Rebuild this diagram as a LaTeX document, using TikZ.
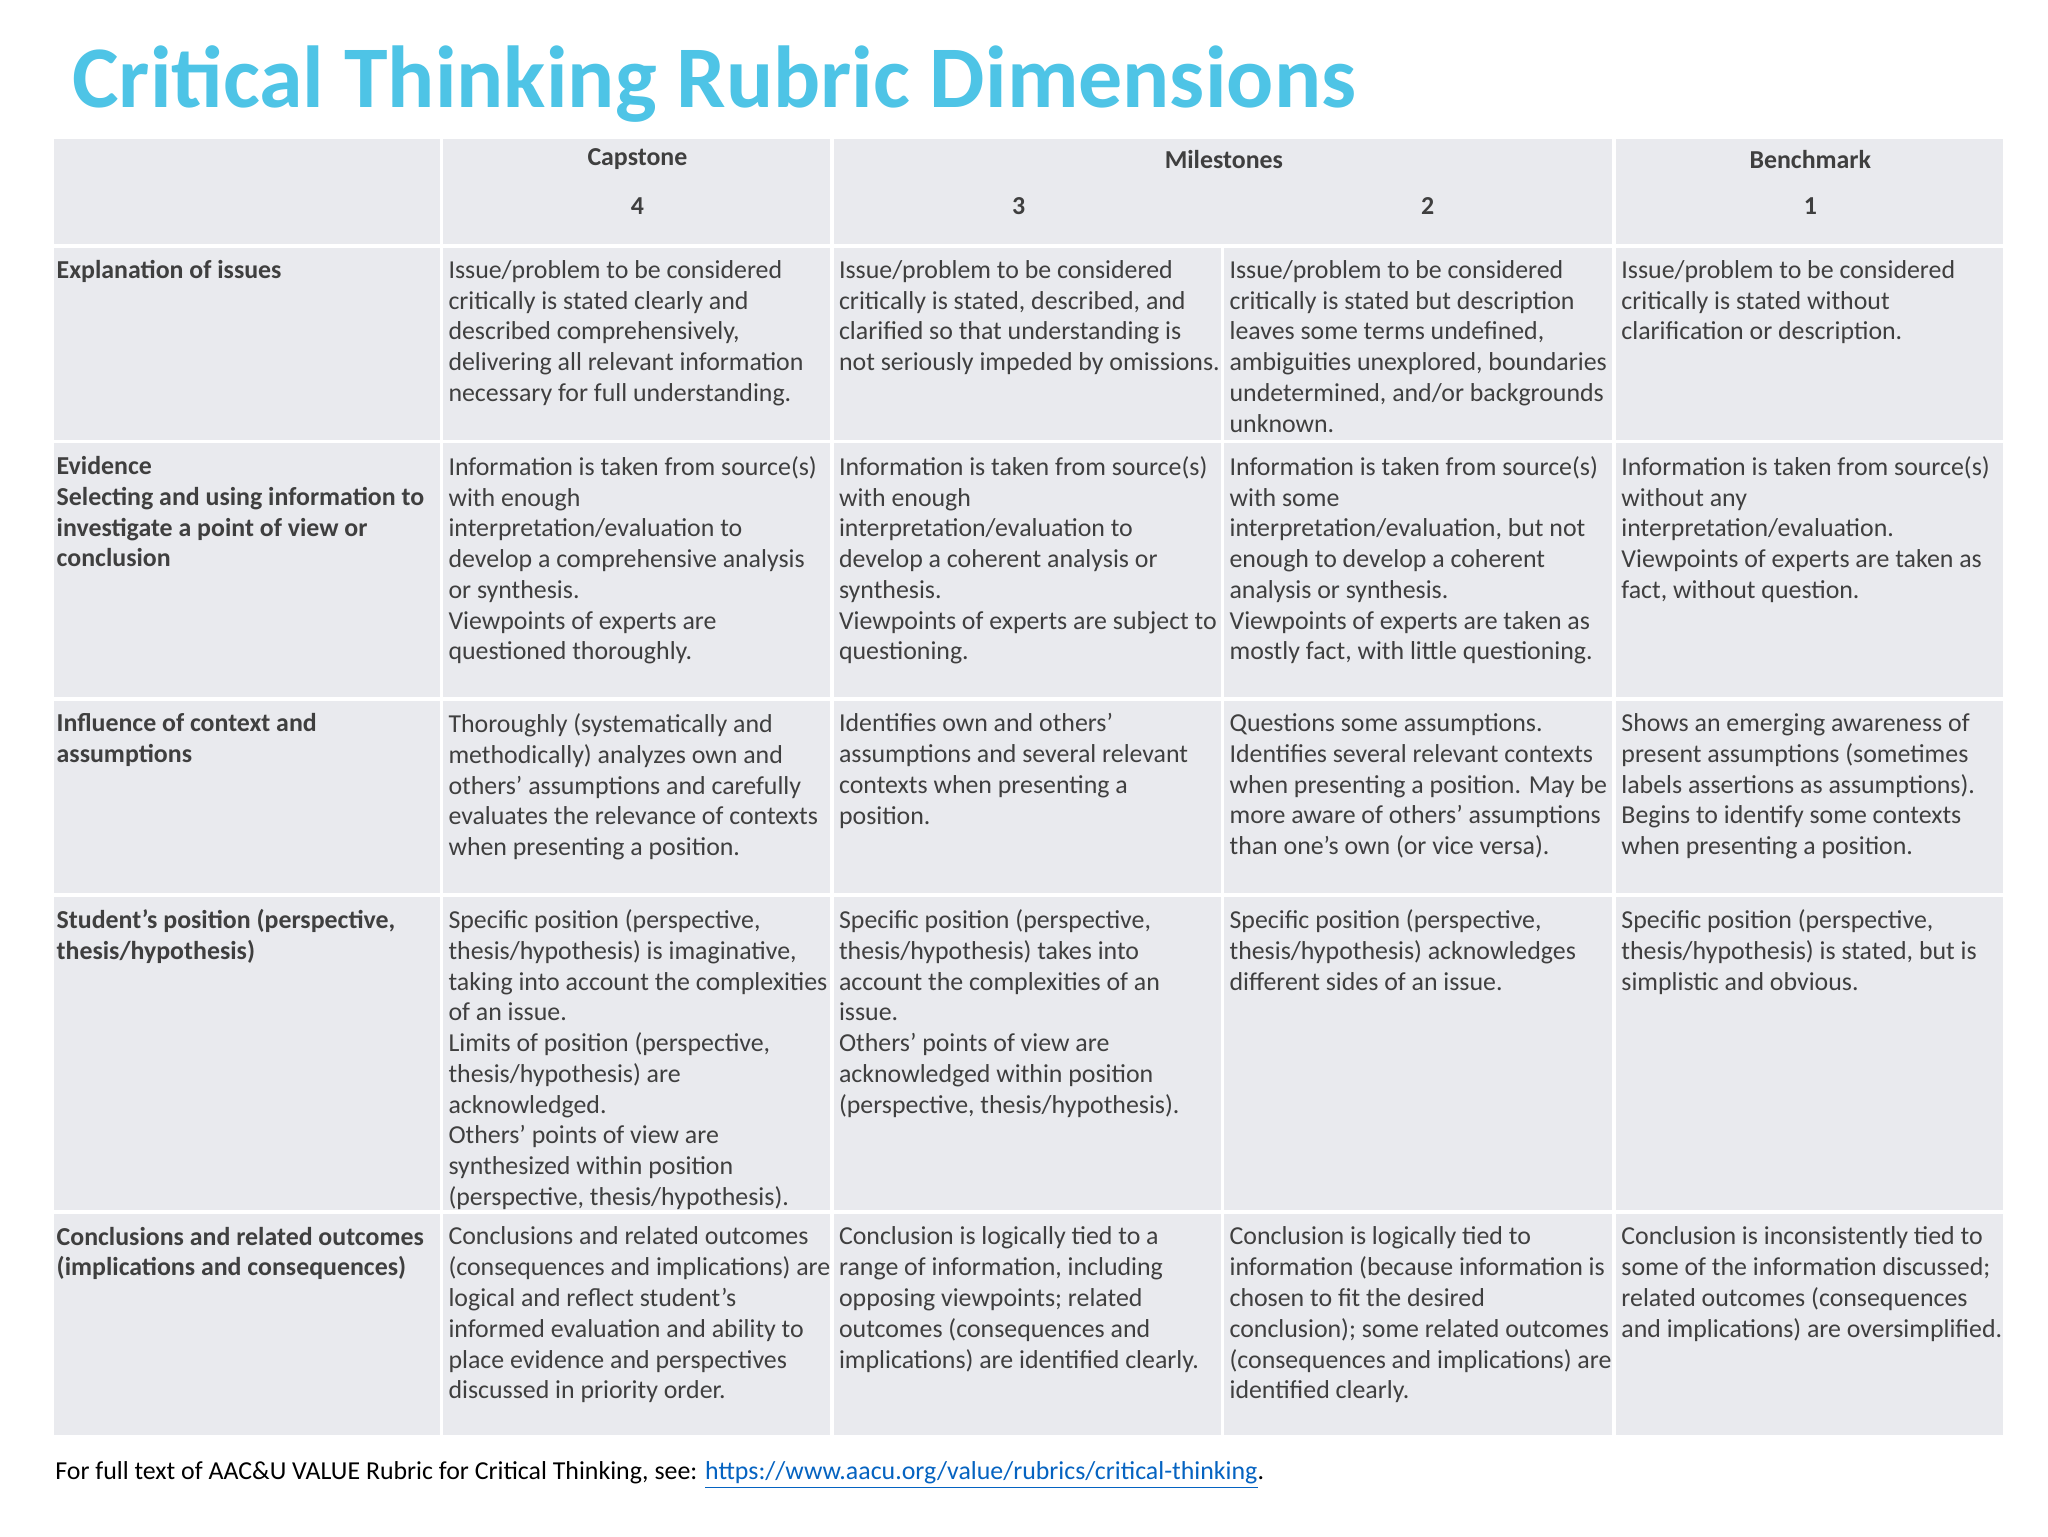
\documentclass[tikz,border=0pt]{standalone}
\usepackage{fontspec}
\setmainfont{Carlito}
\newcommand\sq{\symbol{39}}
\definecolor{cell}{HTML}{E9EAEE}
\definecolor{ttl}{HTML}{4EC4E6}
\definecolor{txt}{HTML}{3F3F3F}
\definecolor{lnk}{HTML}{0563C1}
\begin{document}
\begin{tikzpicture}[x=0.505pt,y=-0.505pt,
  ct/.style={anchor=north west,inner sep=0,align=left,font=\fontsize{10}{11.9}\selectfont,text=txt},
  hd/.style={inner sep=0,font=\fontsize{10}{11.9}\selectfont\bfseries,text=txt},
  cbox/.style={fill=cell,draw=white,line width=1.5pt}]
\useasboundingbox (0,0) rectangle (1568,1176);
\fill[white] (0,0) rectangle (1568,1176);
\node[anchor=base west,inner sep=0,font=\fontsize{34}{38}\selectfont\bfseries,text=ttl] (title) at (55,82) {Critical Thinking Rubric Dimensions};
% grid
\foreach \xa/\xb in {40/338,338/637,637/936,936/1236,1236/1535}{
  \foreach \ya/\yb in {188/338,338/535,535/685,685/928,928/1100}{
    \draw[cbox] (\xa,\ya) rectangle (\xb,\yb);}}
\foreach \xa/\xb in {40/338,338/637,637/1236,1236/1535}{
  \draw[cbox] (\xa,105) rectangle (\xb,188);}
\node[hd] (h1) at (488,122) {Capstone};
\node[hd] (h1n) at (488,158) {4};
\node[hd] (h2) at (937,122) {Milestones};
\node[hd] (h2a) at (780,158) {3};
\node[hd] (h2b) at (1093,158) {2};
\node[hd] (h3) at (1386,122) {Benchmark};
\node[hd] (h3n) at (1386,158) {1};
% row labels
\node[ct,font=\fontsize{10}{11.9}\selectfont\bfseries] (r1) at (43,199) {Explanation of issues};
\node[ct,font=\fontsize{10}{11.9}\selectfont\bfseries] (r2) at (43,349) {Evidence\\Selecting and using information to\\investigate a point of view or\\conclusion};
\node[ct,font=\fontsize{10}{11.9}\selectfont\bfseries] (r3) at (43,546) {Influence of context and\\assumptions};
\node[ct,font=\fontsize{10}{11.9}\selectfont\bfseries] (r4) at (43,696) {Student\sq s position (perspective,\\thesis/hypothesis)};
\node[ct,font=\fontsize{10}{11.9}\selectfont\bfseries] (r5) at (43,939) {Conclusions and related outcomes\\(implications and consequences)};
% row 1
\node[ct] (c11) at (343,199) {Issue/problem to be considered\\critically is stated clearly and\\described comprehensively,\\delivering all relevant information\\necessary for full understanding.};
\node[ct] (c12) at (642,199) {Issue/problem to be considered\\critically is stated, described, and\\clarified so that understanding is\\not seriously impeded by omissions.};
\node[ct] (c13) at (941,199) {Issue/problem to be considered\\critically is stated but description\\leaves some terms undefined,\\ambiguities unexplored, boundaries\\undetermined, and/or backgrounds\\unknown.};
\node[ct] (c14) at (1241,199) {Issue/problem to be considered\\critically is stated without\\clarification or description.};
% row 2
\node[ct] (c21) at (343,349) {Information is taken from source(s)\\with enough\\interpretation/evaluation to\\develop a comprehensive analysis\\or synthesis.\\Viewpoints of experts are\\questioned thoroughly.};
\node[ct] (c22) at (642,349) {Information is taken from source(s)\\with enough\\interpretation/evaluation to\\develop a coherent analysis or\\synthesis.\\Viewpoints of experts are subject to\\questioning.};
\node[ct] (c23) at (941,349) {Information is taken from source(s)\\with some\\interpretation/evaluation, but not\\enough to develop a coherent\\analysis or synthesis.\\Viewpoints of experts are taken as\\mostly fact, with little questioning.};
\node[ct] (c24) at (1241,349) {Information is taken from source(s)\\without any\\interpretation/evaluation.\\Viewpoints of experts are taken as\\fact, without question.};
% row 3
\node[ct] (c31) at (343,546) {Thoroughly (systematically and\\methodically) analyzes own and\\others\sq{} assumptions and carefully\\evaluates the relevance of contexts\\when presenting a position.};
\node[ct] (c32) at (642,546) {Identifies own and others\sq\\assumptions and several relevant\\contexts when presenting a\\position.};
\node[ct] (c33) at (941,546) {Questions some assumptions.\\Identifies several relevant contexts\\when presenting a position. May be\\more aware of others\sq{} assumptions\\than one\sq s own (or vice versa).};
\node[ct] (c34) at (1241,546) {Shows an emerging awareness of\\present assumptions (sometimes\\labels assertions as assumptions).\\Begins to identify some contexts\\when presenting a position.};
% row 4
\node[ct] (c41) at (343,696) {Specific position (perspective,\\thesis/hypothesis) is imaginative,\\taking into account the complexities\\of an issue.\\Limits of position (perspective,\\thesis/hypothesis) are\\acknowledged.\\Others\sq{} points of view are\\synthesized within position\\(perspective, thesis/hypothesis).};
\node[ct] (c42) at (642,696) {Specific position (perspective,\\thesis/hypothesis) takes into\\account the complexities of an\\issue.\\Others\sq{} points of view are\\acknowledged within position\\(perspective, thesis/hypothesis).};
\node[ct] (c43) at (941,696) {Specific position (perspective,\\thesis/hypothesis) acknowledges\\different sides of an issue.};
\node[ct] (c44) at (1241,696) {Specific position (perspective,\\thesis/hypothesis) is stated, but is\\simplistic and obvious.};
% row 5
\node[ct] (c51) at (343,939) {Conclusions and related outcomes\\(consequences and implications) are\\logical and reflect student’s\\informed evaluation and ability to\\place evidence and perspectives\\discussed in priority order.};
\node[ct] (c52) at (642,939) {Conclusion is logically tied to a\\range of information, including\\opposing viewpoints; related\\outcomes (consequences and\\implications) are identified clearly.};
\node[ct] (c53) at (941,939) {Conclusion is logically tied to\\information (because information is\\chosen to fit the desired\\conclusion); some related outcomes\\(consequences and implications) are\\identified clearly.};
\node[ct] (c54) at (1241,939) {Conclusion is inconsistently tied to\\some of the information discussed;\\related outcomes (consequences\\and implications) are oversimplified.};
% footer
\node[anchor=base west,inner sep=0,font=\fontsize{10}{11.9}\selectfont,text=black] (foot) at (42,1133) {For full text of AAC\&U VALUE Rubric for Critical Thinking, see: \textcolor{lnk}{\underline{https://www.aacu.org/value/rubrics/critical-thinking}}.};
\end{tikzpicture}
\end{document}
